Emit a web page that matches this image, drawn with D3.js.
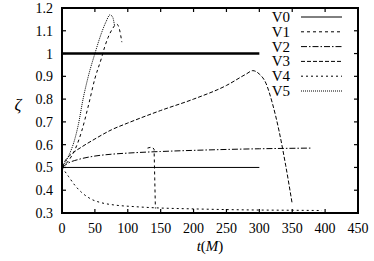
<!DOCTYPE html>
<html>
<head>
<meta charset="utf-8">
<script src="https://cdn.jsdelivr.net/npm/d3@7"></script>
<style>
  body { margin: 0; background: #fff; }
  svg text { font-family: "Liberation Serif", "Times New Roman", "DejaVu Serif", serif; }
</style>
</head>
<body>
<svg width="374" height="261"></svg>
<script>
// values
const xTicks = [0, 50, 100, 150, 200, 250, 300, 350, 400, 450];
const yTicks = [0.3, 0.4, 0.5, 0.6, 0.7, 0.8, 0.9, 1, 1.1, 1.2];
const seriesNames = ["V0", "V1", "V2", "V3", "V4", "V5"];

const refLine = [[0, 1.0], [300, 1.0]];
const v0 = [[0, 0.5], [300, 0.5]];
const v1 = [[0, 0.5], [10, 0.53], [20, 0.58], [30, 0.66], [40, 0.77], [50, 0.89], [60, 0.98],
  [65, 1.03], [70, 1.07], [77, 1.11], [83, 1.13], [87, 1.11], [91, 1.05]];
const v1b = [[130, 0.585], [137, 0.59], [140, 0.58], [141, 0.45], [142, 0.32]];
const v2 = [[0, 0.5], [10, 0.52], [25, 0.535], [50, 0.55], [75, 0.558], [100, 0.563],
  [150, 0.57], [200, 0.575], [250, 0.579], [300, 0.582], [380, 0.585]];
const v3 = [[0, 0.5], [5, 0.53], [15, 0.56], [30, 0.59], [50, 0.625], [75, 0.665], [100, 0.695],
  [150, 0.75], [200, 0.8], [250, 0.86], [280, 0.91], [290, 0.925], [300, 0.91], [310, 0.87],
  [320, 0.78], [330, 0.66], [340, 0.51], [350, 0.34]];
const v4 = [[0, 0.5], [10, 0.46], [20, 0.42], [30, 0.39], [45, 0.36], [60, 0.345], [80, 0.335],
  [110, 0.328], [140, 0.323], [200, 0.318], [250, 0.315], [300, 0.313], [350, 0.312], [395, 0.311]];
const v5 = [[0, 0.5], [10, 0.55], [20, 0.63], [25, 0.69], [32, 0.8], [40, 0.9], [50, 1.0],
  [60, 1.09], [67, 1.14], [73, 1.17], [77, 1.16], [80, 1.12]];

const dashes = {
  V0: null,
  V1: "3,3",
  V2: "6,2,1.5,2",
  V3: "4,2",
  V4: "2,3",
  V5: "1,1"
};

const svg = d3.select("svg");
const m = { left: 62, right: 358, top: 8, bottom: 213 };

const x = d3.scaleLinear().domain([0, 450]).range([m.left, m.right]);
const y = d3.scaleLinear().domain([0.3, 1.2]).range([m.bottom, m.top]);

const line = d3.line().x(d => x(d[0])).y(d => y(d[1])).curve(d3.curveMonotoneX);
const straight = d3.line().x(d => x(d[0])).y(d => y(d[1]));

// ticks, inward on all sides
const tickLen = 4;
const g = svg.append("g").attr("stroke", "#000").attr("stroke-width", 1.2);
xTicks.forEach(t => {
  g.append("line").attr("x1", x(t)).attr("x2", x(t)).attr("y1", m.bottom).attr("y2", m.bottom - tickLen);
  g.append("line").attr("x1", x(t)).attr("x2", x(t)).attr("y1", m.top).attr("y2", m.top + tickLen);
});
yTicks.forEach(t => {
  g.append("line").attr("x1", m.left).attr("x2", m.left + tickLen).attr("y1", y(t)).attr("y2", y(t));
  g.append("line").attr("x1", m.right).attr("x2", m.right - tickLen).attr("y1", y(t)).attr("y2", y(t));
});

svg.append("g").selectAll("text").data(xTicks).join("text")
  .attr("x", d => x(d)).attr("y", 233)
  .attr("text-anchor", "middle").attr("font-size", 14)
  .text(d => d);

svg.append("g").selectAll("text").data(yTicks).join("text")
  .attr("x", 53).attr("y", d => y(d) + 5)
  .attr("text-anchor", "end").attr("font-size", 14)
  .text(d => d);

// curves
const curves = svg.append("g").attr("fill", "none").attr("stroke", "#000");
curves.append("path").attr("d", straight(refLine)).attr("stroke-width", 2.5);
curves.append("path").attr("d", straight(v0)).attr("stroke-width", 1);
curves.append("path").attr("d", line(v1)).attr("stroke-width", 1).attr("stroke-dasharray", dashes.V1);
curves.append("path").attr("d", straight(v1b)).attr("stroke-width", 1).attr("stroke-dasharray", dashes.V1);
curves.append("path").attr("d", line(v2)).attr("stroke-width", 1).attr("stroke-dasharray", dashes.V2);
curves.append("path").attr("d", line(v3)).attr("stroke-width", 1).attr("stroke-dasharray", dashes.V3);
curves.append("path").attr("d", line(v4)).attr("stroke-width", 1).attr("stroke-dasharray", dashes.V4);
curves.append("path").attr("d", line(v5)).attr("stroke-width", 1).attr("stroke-dasharray", dashes.V5);

// frame
svg.append("rect")
  .attr("x", m.left).attr("y", m.top)
  .attr("width", m.right - m.left).attr("height", m.bottom - m.top)
  .attr("fill", "none").attr("stroke", "#000").attr("stroke-width", 2);

// legend
const legend = svg.append("g");
seriesNames.forEach((name, i) => {
  const ly = 17 + i * 14.8;
  legend.append("text").attr("x", 290).attr("y", ly + 5)
    .attr("text-anchor", "end").attr("font-size", 15).text(name);
  legend.append("line").attr("x1", 301).attr("x2", 342).attr("y1", ly).attr("y2", ly)
    .attr("stroke", "#000").attr("stroke-width", 1)
    .attr("stroke-dasharray", dashes[name]);
});

// axis titles
svg.append("text").attr("x", 18).attr("y", 110)
  .attr("text-anchor", "middle").attr("font-size", 17).attr("font-style", "italic")
  .text("ζ");

const xt = svg.append("text").attr("x", 210).attr("y", 251)
  .attr("text-anchor", "middle").attr("font-size", 15);
xt.append("tspan").attr("font-style", "italic").text("t");
xt.append("tspan").text("(");
xt.append("tspan").attr("font-style", "italic").text("M");
xt.append("tspan").text(")");
</script>
</body>
</html>
